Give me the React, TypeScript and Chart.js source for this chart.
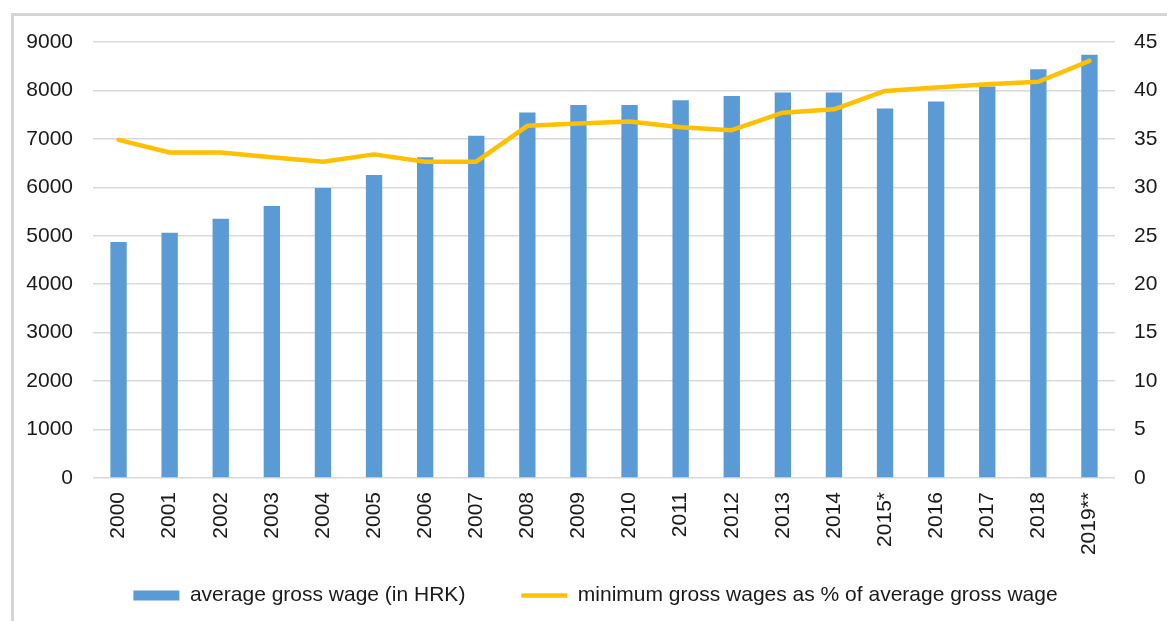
import React, { useEffect, useRef } from "react";
import { Chart, registerables } from "chart.js";

Chart.register(...registerables);

const categories = [
  "2000", "2001", "2002", "2003", "2004", "2005", "2006", "2007", "2008", "2009",
  "2010", "2011", "2012", "2013", "2014", "2015*", "2016", "2017", "2018", "2019**",
];

const averageGrossWage = [
  4870, 5060, 5350, 5615, 5985, 6255, 6620, 7065, 7545, 7700,
  7700, 7800, 7885, 7955, 7955, 7625, 7770, 8080, 8440, 8735,
];

const minWagePercent = [
  34.9, 33.6, 33.6, 33.1, 32.65, 33.4, 32.65, 32.65, 36.35, 36.6,
  36.8, 36.2, 35.9, 37.7, 38.05, 39.95, 40.3, 40.65, 40.9, 43.05,
];

const leftTicks = { min: 0, max: 9000, step: 1000 };
const rightTicks = { min: 0, max: 45, step: 5 };

const barLabel = "average gross wage (in HRK)";
const lineLabel = "minimum gross wages as % of average gross wage";

const FONT = "'Liberation Sans', Arial, sans-serif";
const SIZE = 21;
const TEXT = "#1a1a1a";
const GRID = "#d9d9d9";

export default function App() {
  const ref = useRef<HTMLCanvasElement | null>(null);

  useEffect(() => {
    document.body.style.overflow = "hidden";
    const canvas = ref.current;
    if (!canvas) return;

    const legendShift = {
      id: "legendShift",
      afterLayout(chart: any) {
        const l = chart.legend;
        if (!l) return;
        const h = l.bottom - l.top;
        l.top = 529;
        l.bottom = 529 + h;
        l.left += 12;
        l.right += 12;
      },
    };

    const chart = new Chart(canvas, {
      data: {
        labels: categories,
        datasets: [
          {
            type: "line",
            label: lineLabel,
            data: minWagePercent,
            yAxisID: "y1",
            borderColor: "#FFC000",
            backgroundColor: "#FFC000",
            borderWidth: 4.5,
            pointRadius: 0,
            tension: 0,
            borderJoinStyle: "round",
            borderCapStyle: "round",
            pointStyle: "line",
            order: 0,
          } as any,
          {
            type: "bar",
            label: barLabel,
            data: averageGrossWage,
            yAxisID: "y",
            backgroundColor: "#5B9BD5",
            borderWidth: 0,
            categoryPercentage: 1,
            barPercentage: 0.32,
            pointStyle: "rect",
            order: 1,
          } as any,
        ],
      },
      options: {
        responsive: false,
        animation: false,
        layout: { padding: { top: 42, left: 0, right: 0, bottom: -24 } },
        plugins: {
          tooltip: { enabled: false },
          legend: {
            position: "bottom",
            reverse: true,
            labels: {
              usePointStyle: true,
              pointStyleWidth: 46,
              boxHeight: 10,
              padding: 56,
              color: TEXT,
              font: { family: FONT, size: SIZE },
            },
          },
        },
        scales: {
          x: {
            grid: { display: false, drawTicks: false },
            border: { display: false },
            ticks: {
              color: TEXT,
              font: { family: FONT, size: SIZE },
              minRotation: 90,
              maxRotation: 90,
              padding: 14,
              autoSkip: false,
            },
            afterFit(scale: any) {
              scale.height = 80;
            },
          },
          y: {
            position: "left",
            min: leftTicks.min,
            max: leftTicks.max,
            grid: { color: GRID, lineWidth: 1.5, drawTicks: false },
            border: { display: false },
            ticks: {
              stepSize: leftTicks.step,
              color: TEXT,
              font: { family: FONT, size: SIZE },
              padding: 20,
              callback: (v: any) => String(v),
            },
            afterFit(scale: any) {
              scale.width = 93;
            },
          },
          y1: {
            position: "right",
            min: rightTicks.min,
            max: rightTicks.max,
            grid: { display: false, drawTicks: false },
            border: { display: false },
            ticks: {
              stepSize: rightTicks.step,
              color: TEXT,
              font: { family: FONT, size: SIZE },
              padding: 19,
              callback: (v: any) => String(v),
            },
            afterFit(scale: any) {
              scale.width = 52;
            },
          },
        },
      } as any,
      plugins: [legendShift],
    });

    return () => chart.destroy();
  }, []);

  return (
    <div
      style={{
        position: "fixed",
        left: 0,
        top: 0,
        width: 1167,
        height: 621,
        overflow: "hidden",
        background: "#fff",
      }}
    >
      <div
        style={{
          position: "absolute",
          left: 11,
          top: 13,
          width: 1300,
          height: 800,
          border: "3px solid #d4d4d4",
        }}
      />
      <canvas
        ref={ref}
        width={1167}
        height={621}
        style={{ position: "absolute", left: 0, top: 0, width: 1167, height: 621 }}
      />
    </div>
  );
}
